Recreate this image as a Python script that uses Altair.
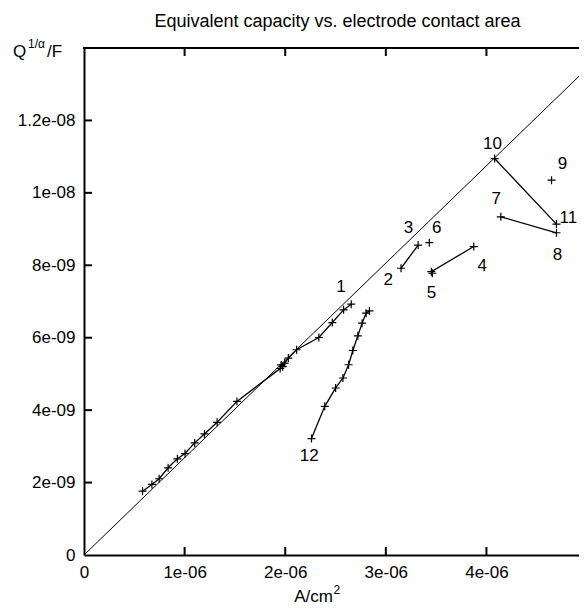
import json
import altair as alt
import pandas as pd

# ---------------- data ----------------
# series 1 (long run along the fit line)
s1_x = [0.582e-6, 0.675e-6, 0.747e-6, 0.836e-6, 0.928e-6, 1.004e-6, 1.100e-6, 1.198e-6,
        1.323e-6, 1.520e-6, 1.950e-6, 1.960e-6, 1.975e-6, 1.995e-6, 2.031e-6, 2.113e-6,
        2.334e-6, 2.468e-6, 2.580e-6, 2.656e-6]
s1_y = [1.763e-9, 1.948e-9, 2.105e-9, 2.408e-9, 2.656e-9, 2.802e-9, 3.096e-9, 3.344e-9,
        3.664e-9, 4.242e-9, 5.15e-9, 5.25e-9, 5.20e-9, 5.30e-9, 5.438e-9, 5.667e-9,
        6.006e-9, 6.419e-9, 6.769e-9, 6.926e-9]
# series 12
s12_x = [2.261e-6, 2.393e-6, 2.501e-6, 2.574e-6, 2.630e-6, 2.672e-6, 2.722e-6, 2.764e-6, 2.804e-6, 2.837e-6]
s12_y = [3.215e-9, 4.105e-9, 4.612e-9, 4.887e-9, 5.253e-9, 5.647e-9, 6.052e-9, 6.402e-9, 6.678e-9, 6.741e-9]
# short series
s23_x = [3.151e-6, 3.321e-6]
s23_y = [7.918e-9, 8.559e-9]
s6_x = [3.432e-6]
s6_y = [8.623e-9]
s45_x = [3.874e-6, 3.452e-6, 3.462e-6]
s45_y = [8.518e-9, 7.824e-9, 7.780e-9]
s78_x = [4.143e-6, 4.696e-6]
s78_y = [9.339e-9, 8.898e-9]
s1011_x = [4.081e-6, 4.696e-6]
s1011_y = [10.948e-9, 9.138e-9]
s9_x = [4.647e-6]
s9_y = [10.350e-9]

# fit line through the origin
fit_x = [0.0, 4.92e-6]
fit_y = [0.0, 13.22e-9]

# point labels
lab_text = ["1", "2", "3", "4", "5", "6", "7", "8", "9", "10", "11", "12"]
lab_x = [2.554e-6, 3.025e-6, 3.225e-6, 3.959e-6, 3.455e-6, 3.505e-6, 4.097e-6, 4.706e-6,
         4.756e-6, 4.061e-6, 4.815e-6, 2.238e-6]
lab_y = [7.397e-9, 7.595e-9, 9.019e-9, 7.989e-9, 7.228e-9, 9.019e-9, 9.818e-9, 8.284e-9,
         10.79e-9, 11.36e-9, 9.31e-9, 2.747e-9]

# axes
x_ticks = [0.0, 1e-6, 2e-6, 3e-6, 4e-6]
x_tick_labels = ["0", "1e-06", "2e-06", "3e-06", "4e-06"]
y_ticks = [0.0, 2e-9, 4e-9, 6e-9, 8e-9, 1e-8, 1.2e-8]
y_tick_labels = ["0", "2e-09", "4e-09", "6e-09", "8e-09", "1e-08", "1.2e-08"]
x_domain = [0.0, 4.92e-6]
y_domain = [0.0, 1.4e-8]

title_text = "Equivalent capacity vs. electrode contact area"

# ---------------- build ----------------
W, H = 495, 507
FONT = "Liberation Sans"
FS = 17

rows = []
for name, xs, ys in [("1", s1_x, s1_y), ("12", s12_x, s12_y), ("2-3", s23_x, s23_y),
                     ("6", s6_x, s6_y), ("4-5", s45_x, s45_y), ("7-8", s78_x, s78_y),
                     ("10-11", s1011_x, s1011_y), ("9", s9_x, s9_y)]:
    for i, (a, b) in enumerate(zip(xs, ys)):
        rows.append({"series": name, "i": i, "x": a, "y": b})
pts = pd.DataFrame(rows)

xscale = alt.Scale(domain=x_domain, nice=False, zero=False)
yscale = alt.Scale(domain=y_domain, nice=False, zero=False)

xaxis = alt.Axis(values=x_ticks, ticks=False, grid=False, domainWidth=2, domainColor="black",
                 labelExpr=json.dumps(x_tick_labels) + "[round(datum.value*1e6)]",
                 labelFont=FONT, labelFontSize=FS, labelColor="black", labelPadding=9,
                 title=None, labelFlush=False, labelOverlap=False)
yaxis = alt.Axis(values=y_ticks, ticks=False, grid=False, domainWidth=2, domainColor="black",
                 labelExpr=json.dumps(y_tick_labels) + "[round(datum.value*5e8)]",
                 labelFont=FONT, labelFontSize=FS, labelColor="black", labelPadding=9,
                 title=None, labelFlush=False, labelOverlap=False)


def X(f):
    return alt.X(f, type="quantitative", scale=xscale, axis=xaxis)


def Y(f):
    return alt.Y(f, type="quantitative", scale=yscale, axis=yaxis)


fit = alt.Chart(pd.DataFrame({"x": fit_x, "y": fit_y})).mark_line(
    color="black", strokeWidth=1).encode(x=X("x"), y=Y("y"))

lines = alt.Chart(pts).mark_line(color="black", strokeWidth=1.3).encode(
    x=X("x"), y=Y("y"), detail="series:N", order="i:Q")

cross = "M-1,0L1,0M0,-1L0,1"
points = alt.Chart(pts).mark_point(shape=cross, size=64, filled=False, color="black",
                                   strokeWidth=1.2, opacity=1).encode(x=X("x"), y=Y("y"))

labels = alt.Chart(pd.DataFrame({"t": lab_text, "x": lab_x, "y": lab_y})).mark_text(
    font=FONT, fontSize=FS, color="black", align="center", baseline="middle").encode(
    x=X("x"), y=Y("y"), text="t:N")

xt = pd.DataFrame({"v": x_ticks[1:]})
yt = pd.DataFrame({"v": y_ticks[1:]})
bottom_ticks = alt.Chart(xt).mark_rule(color="black", strokeWidth=2).encode(
    x=X("v"), y=alt.value(H), y2=alt.value(H - 8))
top_ticks = alt.Chart(xt).mark_rule(color="black", strokeWidth=2).encode(
    x=X("v"), y=alt.value(0), y2=alt.value(8))
left_ticks = alt.Chart(yt).mark_rule(color="black", strokeWidth=2).encode(
    y=Y("v"), x=alt.value(0), x2=alt.value(8))
top_border = alt.Chart(pd.DataFrame({"a": [0]})).mark_rule(color="black", strokeWidth=2).encode(
    x=alt.value(-1), x2=alt.value(W + 10), y=alt.value(0))


def txt(s, x, y, size=FS, align="left"):
    return alt.Chart(pd.DataFrame({"t": [s]})).mark_text(
        font=FONT, fontSize=size, color="black", align=align, baseline="alphabetic").encode(
        x=alt.value(x), y=alt.value(y), text="t:N")


title = txt(title_text, 253.5, -21, size=18, align="center")
ylab_q = txt("Q", -71, 9)
ylab_sup = txt("1/α", -56, 0, size=12)
ylab_f = txt("/F", -37, 9)
xlab_a = txt("A/cm", 249, H + 47, align="right")
xlab_sup = txt("2", 249.5, H + 39, size=12)

chart = alt.layer(
    fit, lines, points, labels,
    bottom_ticks, top_ticks, left_ticks, top_border,
    title, ylab_q, ylab_sup, ylab_f, xlab_a, xlab_sup,
).properties(
    width=W, height=H,
    padding={"left": 76, "top": 40, "right": 0, "bottom": 52},
    autosize=alt.AutoSizeParams(type="none"),
).configure_view(stroke=None).configure(background="white")

chart.save("out.html", embed_options={"renderer": "svg", "actions": False})
